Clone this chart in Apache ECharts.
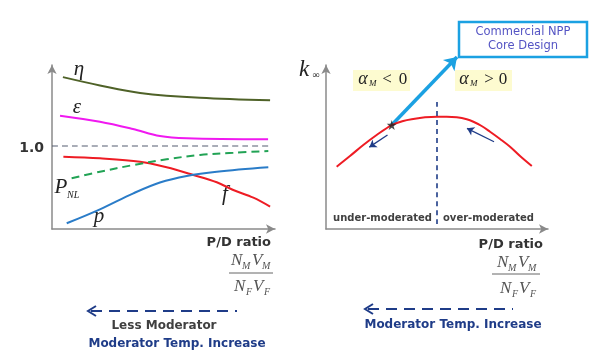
<!DOCTYPE html>
<html><head><meta charset="utf-8">
<script src="https://cdn.jsdelivr.net/npm/echarts@6/dist/echarts.min.js"></script>
<style>html,body{margin:0;padding:0;background:#fff}#c{width:600px;height:358px}</style>
</head><body><div id="c"></div>
<script>
// ---- Left panel: factors vs P/D ratio (x 0..10, y with 1.0 reference) ----
const etaCurve = [[0.49,1.83],[2.15,1.73],[3.95,1.64],[6.64,1.58],[9.78,1.55]];
const epsCurve = [[0.36,1.365],[2.15,1.293],[3.63,1.205],[4.84,1.12],[6.05,1.093],[9.69,1.081]];
const fCurve = [[0.51,0.871],[2.15,0.852],[3.95,0.811],[5.14,0.743],[6.34,0.651],[7.39,0.563],[8.13,0.470],[9.03,0.377],[9.78,0.269]];
const pnlCurve = [[0.88,0.611],[2.15,0.690],[3.65,0.771],[5.14,0.840],[6.64,0.892],[8.13,0.919],[9.70,0.940]];
const pCurve = [[0.66,0.069],[2.15,0.237],[3.65,0.430],[4.84,0.560],[6.04,0.639],[7.39,0.690],[9.70,0.743]];
const unityLine = [[0,1.0],[9.7,1.0]];
const leftYMax = 1.976;

// ---- Right panel: k-infinity vs P/D ratio (x 0..10, y 0..10) ----
const kCurve = [[0.48,3.80],[1.08,4.45],[1.68,5.12],[2.28,5.73],[2.96,6.34],[3.48,6.59],[3.93,6.71],[4.46,6.81],[4.99,6.85],[5.44,6.85],[5.89,6.81],[6.34,6.69],[6.64,6.54],[7.01,6.28],[7.39,5.93],[7.84,5.49],[8.29,5.02],[8.74,4.45],[9.27,3.84]];
const optimumLine = [[5.0,0.3],[5.0,7.87]];
const designPoint = [[2.96,6.34]];
const designArrow = [[2.96,6.34],[5.90,10.49]];
const underArrow = [[2.77,5.73],[1.95,4.99]];
const overArrow = [[7.57,5.32],[6.35,6.14]];

const chart = echarts.init(document.getElementById('c'), null, {renderer:'canvas'});
const AX = '#8a8a8a', NAVY = '#1f3c88', SERIF = "'Liberation Serif', 'DejaVu Serif', serif", SANS = "'DejaVu Sans', sans-serif";

function axis(type, gi, max){
  return {type:'value', gridIndex:gi, min:0, max:max,
    axisLine:{show:true, onZero:false, symbol:['none','arrow'], symbolSize:[7,9], lineStyle:{color:AX, width:1.5}},
    axisTick:{show:false}, axisLabel:{show:false}, splitLine:{show:false}};
}
function curve(data, gi, color, dashed, w){
  return {type:'line', xAxisIndex:gi, yAxisIndex:gi, data:data, smooth:0.35, showSymbol:false, symbol:'none',
    lineStyle:{color:color, width:w||2, type: dashed||'solid'}, silent:true, clip:false};
}
function arrow(coords, color, w, size){
  return {type:'lines', coordinateSystem:'cartesian2d', xAxisIndex:1, yAxisIndex:1, clip:false,
    symbol:['none','arrow'], symbolSize:size, silent:true,
    lineStyle:{color:color, width:w, opacity:1}, data:[{coords:coords}]};
}
function T(x,y,text,font,fill,align){
  return {type:'text', silent:true, style:{x:x, y:y, text:text, font:font, fill:fill||'#222', textAlign:align||'center', textVerticalAlign:'middle'}};
}
function frac(x0, yN, yL, yD, l0, l1){
  const it = 'italic 17px '+SERIF, sb = 'italic 10px '+SERIF, c='#555';
  return [
    T(x0,yN,'N',it,c,'left'), T(x0+11,yN+5,'M',sb,c,'left'), T(x0+21,yN,'V',it,c,'left'), T(x0+31,yN+5,'M',sb,c,'left'),
    {type:'line', silent:true, shape:{x1:l0,y1:yL,x2:l1,y2:yL}, style:{stroke:'#666', lineWidth:1}},
    T(x0+3,yD,'N',it,c,'left'), T(x0+15,yD+5,'F',sb,c,'left'), T(x0+22,yD,'V',it,c,'left'), T(x0+33,yD+5,'F',sb,c,'left')
  ];
}
function dashArrow(x0, x1, y){
  return [
    {type:'line', silent:true, shape:{x1:x0+3,y1:y,x2:x1,y2:y}, style:{stroke:NAVY, lineWidth:2, lineDash:[11,7]}},
    {type:'polyline', silent:true, shape:{points:[[x0+8,y-5],[x0,y],[x0+8,y+5]]}, style:{stroke:NAVY, lineWidth:2, fill:null}}
  ];
}
const starPath = 'path://M50,0 L61,35 L98,35 L68,57 L79,92 L50,70 L21,92 L32,57 L2,35 L39,35 Z';

const graphics = [].concat(
  [
    T(79,69,'η','italic 21px '+SERIF),
    T(77,107,'ε','italic 21px '+SERIF),
    T(44,148,'1.0','bold 14px '+SANS,'#333','right'),
    T(61,187,'P','italic 21px '+SERIF),
    T(67,195,'NL','italic 10px '+SERIF,'#222','left'),
    T(99,216,'p','italic 21px '+SERIF),
    T(225,194,'f','italic 21px '+SERIF),
    T(271,243,'P/D ratio','bold 13px '+SANS,'#333','right'),
    T(164,326,'Less Moderator','bold 12px '+SANS,'#404040'),
    T(177,344,'Moderator Temp. Increase','bold 12px '+SANS,NAVY),
    // right panel
    T(304,70,'k','italic 23px '+SERIF),
    T(316,75,'∞','10px '+SERIF),
    {type:'rect', silent:true, shape:{x:353,y:70,width:57,height:21}, style:{fill:'#fdfbd0'}},
    {type:'rect', silent:true, shape:{x:455,y:70,width:57,height:21}, style:{fill:'#fdfbd0'}},
    T(363,79,'α','italic 18px '+SERIF,'#222'),
    T(369,84,'M','italic 9px '+SERIF,'#222','left'),
    T(387,80,'<','17px '+SERIF,'#222'),
    T(403,80,'0','17px '+SERIF,'#222'),
    T(464,79,'α','italic 18px '+SERIF,'#222'),
    T(470,84,'M','italic 9px '+SERIF,'#222','left'),
    T(489,80,'>','17px '+SERIF,'#222'),
    T(503,80,'0','17px '+SERIF,'#222'),
    {type:'rect', silent:true, shape:{x:459,y:22,width:128,height:35}, style:{fill:'#fff', stroke:'#1ba1e2', lineWidth:2.5}},
    T(523,32,'Commercial NPP','11.5px '+SANS,'#5454c4'),
    T(523,46,'Core Design','11.5px '+SANS,'#5454c4'),
    T(432,218,'under-moderated','bold 10px '+SANS,'#404040','right'),
    T(443,218,'over-moderated','bold 10px '+SANS,'#404040','left'),
    T(543,245,'P/D ratio','bold 13px '+SANS,'#333','right'),
    T(453,325,'Moderator Temp. Increase','bold 12px '+SANS,NAVY)
  ],
  frac(231,261,273,287,229,273),
  frac(497,263,274,289,492,540),
  dashArrow(88,237,311),
  dashArrow(365,513,309)
);

chart.setOption({
  animation:false,
  backgroundColor:'#fff',
  grid:[{left:52, top:65, width:223, height:164}, {left:326, top:65, width:222, height:164}],
  xAxis:[axis('x',0,10), axis('x',1,10)],
  yAxis:[axis('y',0,leftYMax), axis('y',1,10)],
  series:[
    curve(etaCurve,0,'#4f6228'),
    curve(epsCurve,0,'#f019f0'),
    curve(unityLine,0,'#555c70',[6,4],1.2),
    curve(fCurve,0,'#ee1c24'),
    curve(pnlCurve,0,'#22a355',[8,5]),
    curve(pCurve,0,'#2a7cc8'),
    curve(kCurve,1,'#ee1c24'),
    curve(optimumLine,1,NAVY,[5,4],1.6),
    arrow(designArrow,'#1ba1e2',3.5,12),
    arrow(underArrow,NAVY,1.3,7),
    arrow(overArrow,NAVY,1.3,7),
    {type:'scatter', xAxisIndex:1, yAxisIndex:1, data:designPoint, symbol:starPath, symbolSize:10, itemStyle:{color:'#222'}, silent:true, z:5}
  ],
  graphic:graphics
});
</script></body></html>
